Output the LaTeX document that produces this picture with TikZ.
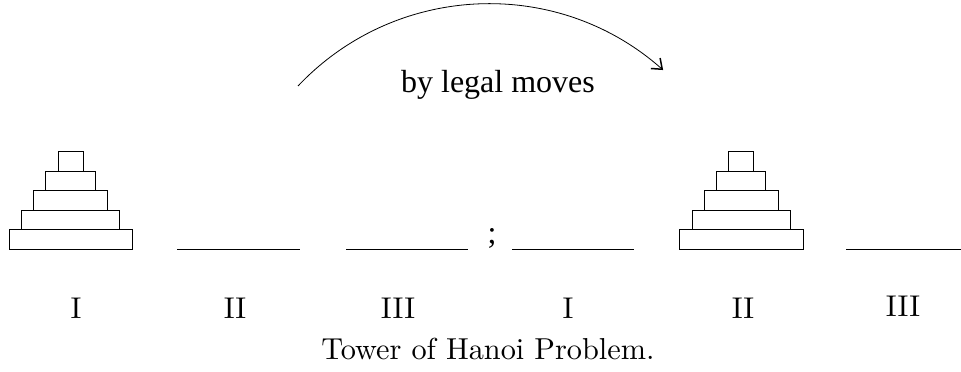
\documentclass[tikz,border=0pt]{standalone}
\usepackage{fontspec}
\usepackage{graphicx}
\newfontfamily\timesfont{Liberation Serif}
\usetikzlibrary{arrows.meta}
\begin{document}
\begin{tikzpicture}[x=1pt,y=1pt,
  disk/.style={draw, line width=1pt, inner sep=0pt, outer sep=0pt, minimum height=19.5pt},
  ground/.style={line width=1pt},
  lab/.style={anchor=base, inner sep=0pt},
  tms/.style={font=\timesfont\fontsize{32}{38}\selectfont, inner sep=0pt, anchor=base}]
\useasboundingbox (0,0) rectangle (961,-372);
% left tower
\node[disk, minimum width=123pt] (a5) at (70.5,-239.5) {};
\node[disk, minimum width=98pt]  (a4) at (70.5,-220) {};
\node[disk, minimum width=74pt]  (a3) at (70.5,-200.5) {};
\node[disk, minimum width=50pt]  (a2) at (70.5,-181) {};
\node[disk, minimum width=25pt]  (a1) at (70.5,-161.5) {};
% right tower
\node[disk, minimum width=124pt] (b5) at (741,-239.5) {};
\node[disk, minimum width=98pt]  (b4) at (741,-220) {};
\node[disk, minimum width=74pt]  (b3) at (741,-200.5) {};
\node[disk, minimum width=49pt]  (b2) at (741,-181) {};
\node[disk, minimum width=25pt]  (b1) at (741,-161.5) {};
% empty pegs
\coordinate (p2l) at (177,-249); \coordinate (p2r) at (300,-249);
\coordinate (p3l) at (346,-249); \coordinate (p3r) at (468,-249);
\coordinate (p4l) at (512,-249); \coordinate (p4r) at (634,-249);
\coordinate (p6l) at (846,-249); \coordinate (p6r) at (961,-249);
\draw[ground] (p2l) -- (p2r);
\draw[ground] (p3l) -- (p3r);
\draw[ground] (p4l) -- (p4r);
\draw[ground] (p6l) -- (p6r);
% semicolon
\node[tms] (semi) at (492,-243) {;};
% arc
\draw[line width=0.8pt, -{Straight Barb[length=9pt,width=14pt,line width=1.5pt]}]
  (298,-86) arc[start angle=136.6, end angle=48.4, radius=262.6];
\node[tms] (moves) at (498,-92) {by legal moves};
% labels
\node[lab] (l1) at (76,-318) {\scalebox{3}{I}};
\node[lab] (l2) at (235,-318) {\scalebox{3}{II}};
\node[lab] (l3) at (398,-318) {\scalebox{3}{III}};
\node[lab] (l4) at (568,-318) {\scalebox{3}{I}};
\node[lab] (l5) at (743,-318) {\scalebox{3}{II}};
\node[lab] (l6) at (903,-316) {\scalebox{3}{III}};
\node[lab] (cap) at (488,-359) {\scalebox{3.03}{Tower of Hanoi Problem.}};
\end{tikzpicture}
\end{document}
